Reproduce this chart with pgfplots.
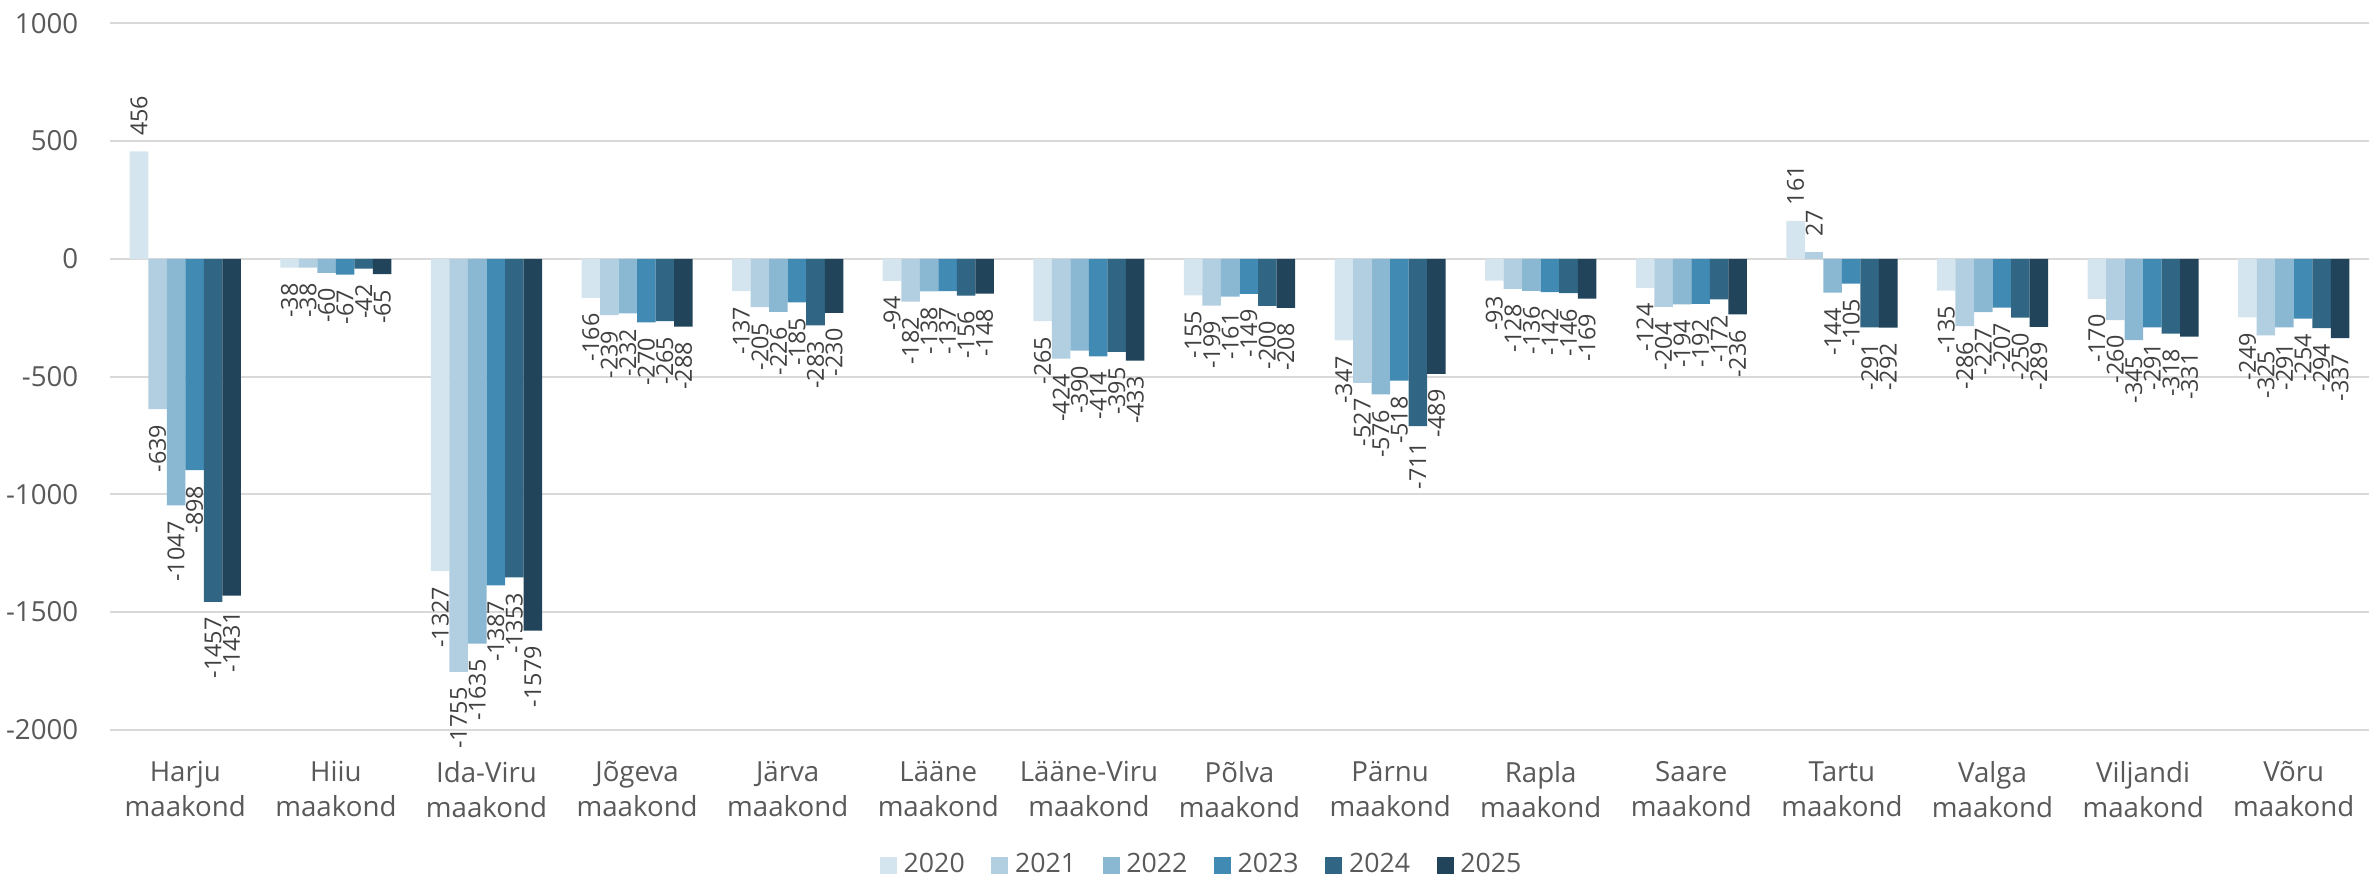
\documentclass[border=0pt]{standalone}
\usepackage{pgfplots}
\pgfplotsset{compat=1.18}
\usepackage{fontspec}
\setmainfont{Open Sans}
\definecolor{cA}{HTML}{D5E5EF}
\definecolor{cB}{HTML}{B1CFE1}
\definecolor{cC}{HTML}{8AB8D3}
\definecolor{cD}{HTML}{418AB4}
\definecolor{cE}{HTML}{306683}
\definecolor{cF}{HTML}{21445A}
\definecolor{txt}{HTML}{595959}
\definecolor{lbl}{HTML}{404040}
\definecolor{grd}{HTML}{D9D9D9}
\begin{document}
\begin{tikzpicture}
\path[use as bounding box] (-33pt,-43.95pt) rectangle (677.7pt,218.9pt);
\begin{axis}[
  at={(0,0)}, anchor=south west,
  scale only axis, width=677.7pt, height=211.9pt,
  xmin=-0.5, xmax=14.5, ymin=-2000, ymax=1000,
  ybar, bar width=0.123,
  axis line style={draw=none},
  major tick length=0pt,
  ymajorgrids, grid style={grd, line width=0.6pt},
  ytick={-2000,-1500,-1000,-500,0,500,1000},
  /pgf/number format/assume math mode=true,
  /pgf/number format/1000 sep={},
  yticklabel style={font=\fontsize{8.3}{10}\selectfont, text=txt, xshift=-6pt},
  xtick={0,...,14},
  xticklabels={{Harju\\maakond},{Hiiu\\maakond},{Ida-Viru\\maakond},{Jõgeva\\maakond},{Järva\\maakond},{Lääne\\maakond},{Lääne-Viru\\maakond},{Põlva\\maakond},{Pärnu\\maakond},{Rapla\\maakond},{Saare\\maakond},{Tartu\\maakond},{Valga\\maakond},{Viljandi\\maakond},{Võru\\maakond}},
  xticklabel style={font=\fontsize{8.3}{10.5}\selectfont, text=txt, align=center, yshift=-6pt},
  nodes near coords={\pgfmathprintnumber{\pgfplotspointmeta}},
  nodes near coords style={font=\fontsize{7}{8}\selectfont, text=lbl, rotate=90, inner xsep=4.5pt},
  legend columns=6,
  legend style={at={(0.4843,-0.1919)}, anchor=center, draw=none, fill=none,
    font=\fontsize{8}{9}\selectfont, text=txt, /tikz/every even column/.append style={column sep=6pt},
    nodes={inner xsep=2pt}},
  legend image code/.code={\fill[#1,draw=none] (0pt,-2.55pt) rectangle (5.1pt,2.55pt);},
  legend entries={2020,2021,2022,2023,2024,2025},
]
% 2020
\addplot[fill=cA, draw=none, bar shift=-0.3075, nodes near coords style={anchor=east}] coordinates {
 (1,-38) (2,-1327) (3,-166) (4,-137) (5,-94) (6,-265) (7,-155) (8,-347) (9,-93) (10,-124) (12,-135) (13,-170) (14,-249)};
\addplot[fill=cA, draw=none, bar shift=-0.3075, forget plot, nodes near coords style={anchor=west}] coordinates {
 (0,456) (11,161)};
% 2021
\addplot[fill=cB, draw=none, bar shift=-0.1845, nodes near coords style={anchor=east}] coordinates {
 (0,-639) (1,-38) (2,-1755) (3,-239) (4,-205) (5,-182) (6,-424) (7,-199) (8,-527) (9,-128) (10,-204) (12,-286) (13,-260) (14,-325)};
\addplot[fill=cB, draw=none, bar shift=-0.1845, forget plot, nodes near coords style={anchor=west}] coordinates {
 (11,27)};
% 2022
\addplot[fill=cC, draw=none, bar shift=-0.0615, nodes near coords style={anchor=east}] coordinates {
 (0,-1047) (1,-60) (2,-1635) (3,-232) (4,-226) (5,-138) (6,-390) (7,-161) (8,-576) (9,-136) (10,-194) (11,-144) (12,-227) (13,-345) (14,-291)};
% 2023
\addplot[fill=cD, draw=none, bar shift=0.0615, nodes near coords style={anchor=east}] coordinates {
 (0,-898) (1,-67) (2,-1387) (3,-270) (4,-185) (5,-137) (6,-414) (7,-149) (8,-518) (9,-142) (10,-192) (11,-105) (12,-207) (13,-291) (14,-254)};
% 2024
\addplot[fill=cE, draw=none, bar shift=0.1845, nodes near coords style={anchor=east}] coordinates {
 (0,-1457) (1,-42) (2,-1353) (3,-265) (4,-283) (5,-156) (6,-395) (7,-200) (8,-711) (9,-146) (10,-172) (11,-291) (12,-250) (13,-318) (14,-294)};
% 2025
\addplot[fill=cF, draw=none, bar shift=0.3075, nodes near coords style={anchor=east}] coordinates {
 (0,-1431) (1,-65) (2,-1579) (3,-288) (4,-230) (5,-148) (6,-433) (7,-208) (8,-489) (9,-169) (10,-236) (11,-292) (12,-289) (13,-331) (14,-337)};
\end{axis}
\end{tikzpicture}
\end{document}
